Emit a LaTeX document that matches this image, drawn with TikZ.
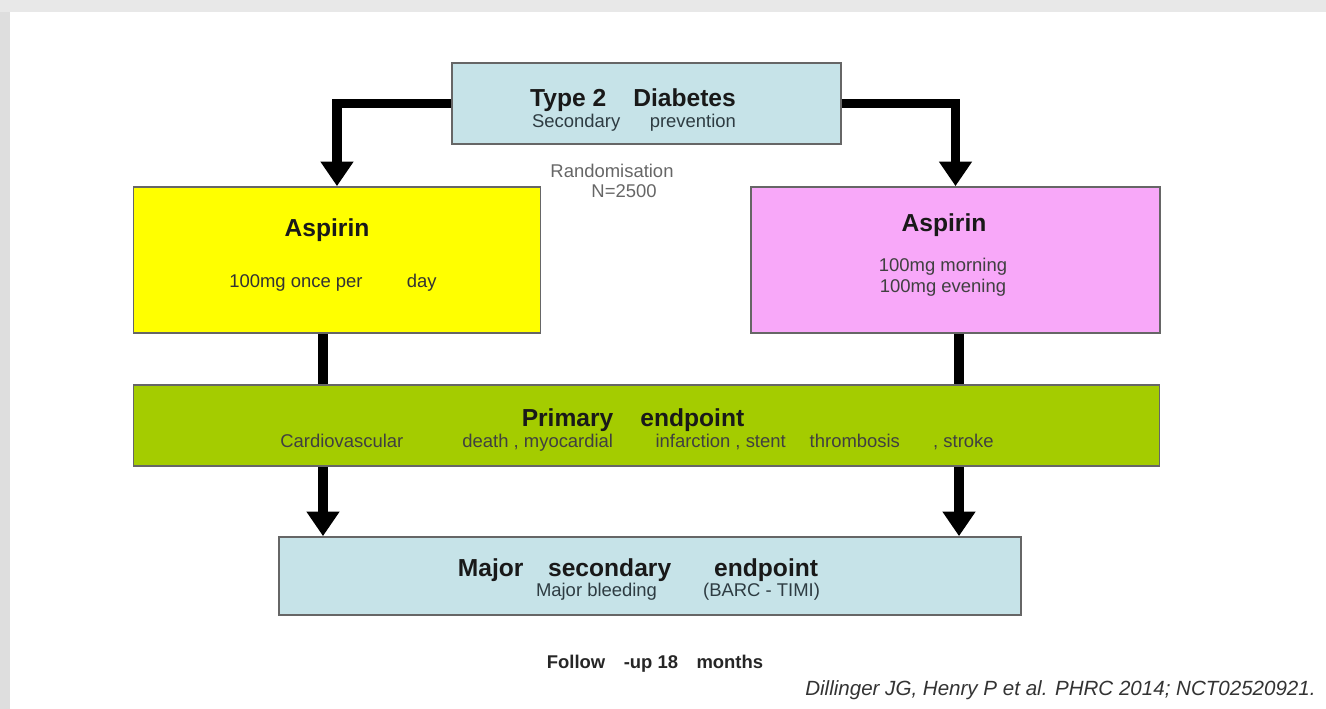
\documentclass[tikz,border=0pt]{standalone}
\usepackage{fontspec}
\setmainfont{Liberation Sans}
\usetikzlibrary{arrows.meta}

\definecolor{paleblue}{HTML}{C6E3E8}
\definecolor{armyellow}{HTML}{FFFF00}
\definecolor{armpink}{HTML}{F8A8F9}
\definecolor{endgreen}{HTML}{A4CC00}
\definecolor{subgray}{HTML}{2E3C42}

\begin{document}
\begin{tikzpicture}
    [x=0.02cm,y=-0.02cm,every node/.style={inner sep=0pt},
     box/.style={rectangle,draw=black!60,line width=1pt},
     head/.style={anchor=base,font=\fontsize{14}{16}\selectfont\bfseries,text=black!90},
     sub/.style={anchor=base,font=\fontsize{10.5}{12}\selectfont,text=subgray},
     note/.style={anchor=base,font=\fontsize{10.5}{12}\selectfont,text=black!60},
     foot/.style={anchor=base,font=\fontsize{10.5}{12}\selectfont\bfseries,text=black!85},
     cite/.style={anchor=base east,font=\fontsize{11.7}{14}\selectfont\itshape,text=black!80},
     bar/.style={line width=5.5pt},
     arr/.style={line width=5.5pt,-{Triangle[width=18pt,length=14pt]}}]
    \useasboundingbox (0,0) rectangle (1326,709);
    \fill[black!9] (0,0) rectangle (1326,12);
    \fill[black!13] (0,12) rectangle (10,709);

    \node[box,fill=paleblue,minimum width=7.78cm,minimum height=1.62cm] (diab) at (646.5,103.5) {};
    \node[box,fill=armyellow,minimum width=8.14cm,minimum height=2.92cm] (asp1) at (337,260) {};
    \node[box,fill=armpink,minimum width=8.18cm,minimum height=2.92cm] (asp2) at (955.5,260) {};
    \node[box,fill=endgreen,minimum width=20.52cm,minimum height=1.62cm] (prim) at (646.5,425.5) {};
    \node[box,fill=paleblue,minimum width=14.84cm,minimum height=1.56cm] (sec) at (650,576) {};

    \coordinate (colL) at (323,0);
    \coordinate (colR) at (959,0);

    \node[head] (diabT) at (633,107) {Type 2\hspace{1.1em}Diabetes};
    \node[sub] (diabS) at (634,128) {Secondary\hspace{1.6em}prevention};
    \node[note] (rand) at (612,178) {Randomisation};
    \node[note] (num) at (624,198) {N=2500};

    \node[head] (asp1T) at (327,237) {Aspirin};
    \node[sub,text=black!80] (asp1S) at (333,288) {100mg once per\hspace{2.4em}day};
    \node[head] (asp2T) at (944,232) {Aspirin};
    \node[sub,text=black!75] (asp2M) at (943,272) {100mg morning};
    \node[sub,text=black!75] (asp2E) at (943,293) {100mg evening};

    \node[head] (primT) at (633,427) {Primary\hspace{1.1em}endpoint};
    \node[sub,text=black!75] (primS) at (637,448) {Cardiovascular\hspace{3.2em}death , myocardial\hspace{2.3em}infarction , stent\hspace{1.3em}thrombosis\hspace{1.8em}, stroke};

    \node[head] (secT) at (638,577) {Major\hspace{1em}secondary\hspace{1.75em}endpoint};
    \node[sub] (secS) at (678,597) {Major bleeding\hspace{2.5em}(BARC - TIMI)};

    \node[foot] (fup) at (655,668) {Follow\hspace{1em}-up 18\hspace{1em}months};
    \node[cite] (ref) at (1316,695) {Dillinger JG, Henry P et al. PHRC 2014; NCT02520921.};

    \draw[arr] (diab.west) -| (asp1.north);
    \draw[arr] (diab.east) -| (asp2.north);
    \draw[bar] (asp1.south -| colL) -- (prim.north -| colL);
    \draw[bar] (asp2.south -| colR) -- (prim.north -| colR);
    \draw[arr] (prim.south -| colL) -- (sec.north -| colL);
    \draw[arr] (prim.south -| colR) -- (sec.north -| colR);
\end{tikzpicture}
\end{document}
